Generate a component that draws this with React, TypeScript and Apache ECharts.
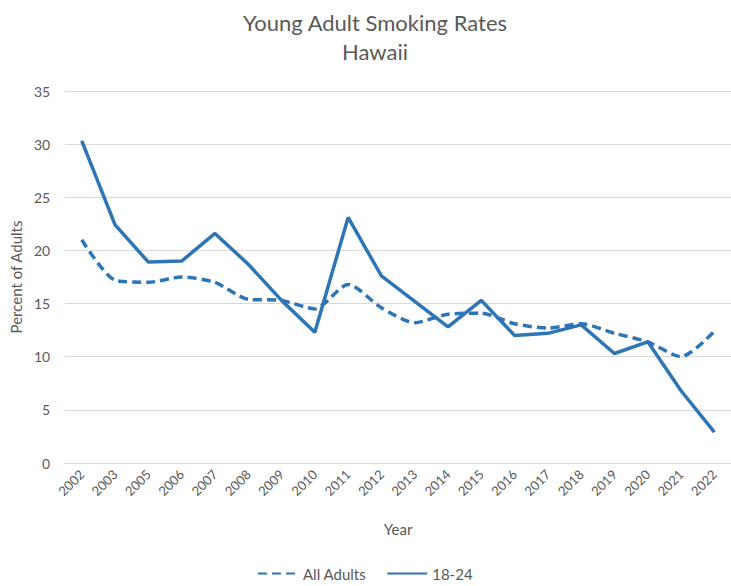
import React, { useEffect, useRef } from "react";
import * as echarts from "echarts";

const years = ["2002","2003","2005","2006","2007","2008","2009","2010","2011","2012","2013","2014","2015","2016","2017","2018","2019","2020","2021","2022"];
const allAdults = [21.0,17.2,17.0,17.5,17.0,15.4,15.3,14.5,16.8,14.6,13.2,14.0,14.1,13.1,12.7,13.1,12.2,11.4,10.0,12.4];
const youngAdults = [30.3,22.4,18.9,19.0,21.6,18.7,15.3,12.3,23.1,17.6,15.2,12.8,15.3,12.0,12.2,13.0,10.3,11.4,6.8,2.9];

const FONT = "Lato";
const GRAY = "#595959";
const BLUE = "#2E75B6";

export default function App() {
  const ref = useRef<HTMLDivElement>(null);
  useEffect(() => {
    const chart = echarts.init(ref.current!, null, { renderer: "svg" });
    chart.setOption({
      animation: false,
      backgroundColor: "#ffffff",
      textStyle: { fontFamily: FONT },
      title: {
        text: "Young Adult Smoking Rates\nHawaii",
        left: 370,
        textAlign: "center",
        top: 3,
        textStyle: { fontFamily: FONT, fontSize: 22, fontWeight: "normal", color: GRAY, lineHeight: 29 },
      },
      grid: { left: 63, right: -4, top: 91, bottom: 123, containLabel: false },
      legend: {
        bottom: 0,
        left: 252,
        itemWidth: 40,
        itemHeight: 10,
        itemGap: 20,
        itemStyle: { opacity: 0 },
        textStyle: { fontFamily: FONT, fontSize: 15, color: GRAY },
        data: ["All Adults", "18-24"],
      },
      xAxis: {
        type: "category",
        data: years,
        boundaryGap: true,
        name: "Year",
        nameLocation: "middle",
        nameGap: 58,
        nameTextStyle: { fontFamily: FONT, fontSize: 15, color: GRAY },
        axisLine: { show: true, lineStyle: { color: "#D9D9D9", width: 1 } },
        axisTick: { show: false },
        axisLabel: { rotate: 45, color: GRAY, fontSize: 13, fontFamily: FONT, margin: 9, interval: 0 },
      },
      yAxis: {
        type: "value",
        min: 0,
        max: 35,
        interval: 5,
        name: "Percent of Adults",
        nameLocation: "middle",
        nameGap: 40,
        nameTextStyle: { fontFamily: FONT, fontSize: 15, color: GRAY },
        axisLine: { show: false },
        axisTick: { show: false },
        axisLabel: { color: GRAY, fontSize: 14, fontFamily: FONT, margin: 15 },
        splitLine: { lineStyle: { color: "#D9D9D9", width: 1.2 } },
      },
      series: [
        {
          name: "All Adults",
          type: "line",
          data: allAdults,
          symbol: "none",
          smooth: 0.25,
          lineStyle: { color: BLUE, width: 3.5, type: [9, 5] },
          itemStyle: { color: BLUE },
        },
        {
          name: "18-24",
          type: "line",
          data: youngAdults,
          symbol: "none",
          lineStyle: { color: BLUE, width: 3.5, type: "solid" },
          itemStyle: { color: BLUE },
        },
      ],
    });
    return () => chart.dispose();
  }, []);
  return <div ref={ref} style={{ width: 731, height: 586, position: "absolute", left: 0, top: 0 }} />;
}
